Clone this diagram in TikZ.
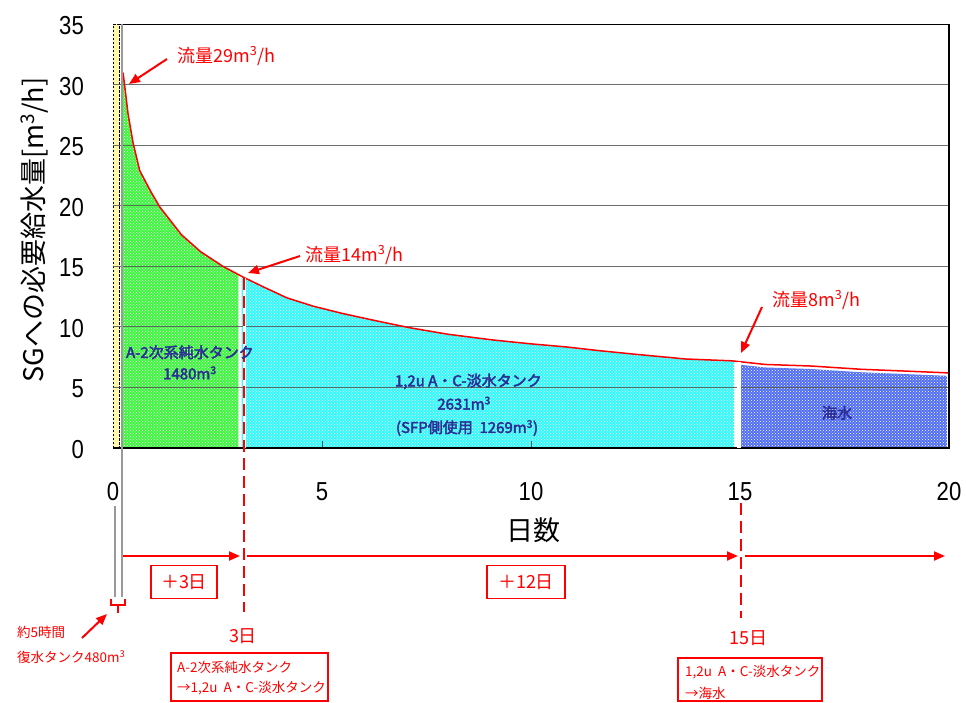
\documentclass[tikz,border=0pt]{standalone}
\usepackage{fontspec}
\setmainfont{Noto Sans CJK JP}
\newfontfamily\numfont[FakeStretch=0.85]{Liberation Sans}
\newfontfamily\jpbold[FakeBold=3]{Noto Sans CJK JP}
\usetikzlibrary{patterns,arrows.meta}
\definecolor{navy}{RGB}{45,45,150}
\definecolor{hgreen}{RGB}{60,245,60}
\definecolor{hcyan}{RGB}{50,248,248}
\definecolor{hblue}{RGB}{80,110,242}
\definecolor{hyellow}{RGB}{255,248,150}
\definecolor{gridc}{RGB}{85,85,85}
\tikzset{
  hatch/.style={fill=#1,postaction={pattern=crosshatch dots,pattern color=white}},
  redline/.style={draw=red,line width=2pt},
  redarrow/.style={draw=red,line width=2pt,-{Triangle[length=11pt,width=9pt]}},
  reddash/.style={draw=red,line width=2.5pt,dash pattern=on 12pt off 6pt},
  tick/.style={font=\numfont\fontsize{26}{28}\selectfont},
  redlab/.style={text=red,font=\fontsize{18}{20}\selectfont,inner sep=0pt},
  redbig/.style={text=red,font=\fontsize{18}{20}\selectfont,inner sep=0pt},
  redsmall/.style={text=red,font=\fontsize{13.5}{15}\selectfont,inner sep=0pt,anchor=west},
  tanklab/.style={text=navy,font=\jpbold\fontsize{15}{17}\selectfont,inner sep=0pt},
  daybox/.style={draw=red,line width=1.6pt,text=red,font=\fontsize{18}{20}\selectfont,minimum height=33pt,inner sep=0pt},
  graybar/.style={draw=gray!80,line width=1.6pt}
}
\def\crv{(0.24,31.0) -- (0.27,30.2) -- (0.36,27.6) -- (0.48,25.2) -- (0.64,22.9) -- (0.9,21.2) -- (1.12,19.9) -- (1.64,17.6) -- (2.1,16.2) -- (2.63,15.0) -- (3.12,14.1) -- (3.6,13.3) -- (4.16,12.4) -- (4.8,11.7) -- (5.5,11.1) -- (6.3,10.5) -- (7.1,9.93) -- (8.0,9.4) -- (9.09,8.92) -- (10.0,8.6) -- (10.86,8.34) -- (11.6,8.05) -- (12.44,7.76) -- (13.7,7.35) -- (14.8,7.2) -- (15.6,6.9) -- (16.7,6.77) -- (17.9,6.5) -- (18.9,6.36) -- (20.0,6.2)}
\begin{document}
\begin{tikzpicture}[x=1pt,y=-1pt]
\useasboundingbox[fill=white] (0,0) rectangle (966,702);
\begin{scope}[shift={(113,448)},x=41.8pt,y=12.11pt]
  % fills
  \begin{scope}
    \clip (0.215,0) rectangle (3.0,35);
    \path[hatch=hgreen] \crv -- (20,-1) -- (0.2,-1) -- (0.2,31) -- cycle;
  \end{scope}
  \begin{scope}
    \clip (3.08,0) rectangle (14.86,35);
    \path[hatch=hcyan] \crv -- (20,-1) -- (0.2,-1) -- cycle;
  \end{scope}
  \begin{scope}
    \clip (15.0,0) rectangle (19.95,35);
    \path[hatch=hblue,yshift=-3pt] \crv -- (20,-1) -- (0.2,-1) -- cycle;
  \end{scope}
  \path[hatch=hyellow] (0,0) rectangle (0.145,35);
  \draw[black,line width=0.6pt,dash pattern=on 2.5pt off 1.5pt] (0,0) rectangle (0.145,35);
  % grid lines
  \foreach \v in {5,10,...,30} \draw[gridc,line width=1.1pt,opacity=0.85] (0,\v) -- (20,\v);
  % ticks
  \foreach \d in {5,10,15} \draw[gridc,line width=1pt] (\d,0) -- (\d,0.55);
  % curve
  \draw[red,line width=1.5pt,line join=round] \crv;
  % frame
  \draw[black,line width=1.2pt] (0.16,35) -- (20,35) -- (20,0) -- (0,0);
\end{scope}
% axis labels
\foreach \v/\yy in {35/24,30/85,25/145,20/206,15/266,10/327,5/387,0/448}
  \node[tick,anchor=east,inner sep=0pt] (yl\v) at (84,\yy+2) {\v};
\foreach \d in {0,5,10,15,20}
  \node[tick,inner sep=0pt] (xl\d) at ({113+41.8*\d},492) {\d};
\node[font=\fontsize{27}{29}\selectfont,inner sep=0pt] (xlab) at (533,530) {日数};
\node[font=\fontsize{27}{29}\selectfont,inner sep=0pt,rotate=90] (ylab) at (35,230) {SGへの必要給水量[m\textsuperscript{3}/h]};
% gray 5h lines
\draw[graybar] (122,24) -- (122,597);
\draw[graybar] (115,506) -- (115,597);
% red dashed day markers
\draw[white,line width=3pt] (244,278) -- (244,448);
\draw[reddash] (244,278) -- (244,612);
\draw[white,line width=3.5pt] (739,362) -- (739,448);
\draw[reddash] (741,503) -- (741,618);
% tank labels (on top of the marker lines)
\begin{scope}[shift={(113,448)},x=41.8pt,y=12.11pt]
  \node[tanklab] (ta1) at (1.84,7.9) {A-2次系純水タンク};
  \node[tanklab] (ta2) at (1.84,6.2) {1480m\textsuperscript{3}};
  \node[tanklab] (tb1) at (8.5,5.5) {1,2u A・C-淡水タンク};
  \node[tanklab] (tb2) at (8.4,3.7) {2631m\textsuperscript{3}};
  \node[tanklab] (tb3) at (8.47,1.65) {(SFP側使用\ \ 1269m\textsuperscript{3})};
  \node[tanklab] (tc1) at (17.32,2.9) {海水};
\end{scope}
% time arrows
\coordinate (t0) at (123,556);
\coordinate (t3a) at (240,556);
\coordinate (t3b) at (247,556);
\coordinate (t15a) at (738,556);
\coordinate (t15b) at (745,556);
\coordinate (tend) at (945,556);
\draw[redarrow] (t0) -- (t3a);
\draw[redarrow] (t3b) -- (t15a);
\draw[redarrow] (t15b) -- (tend);
\node[daybox,minimum width=66pt] (p3) at (184,582) {＋3日};
\node[daybox,minimum width=78pt] (p12) at (526,582) {＋12日};
\node[redbig] (d3) at (243,636) {3日};
\node[redbig] (d15) at (748,638) {15日};
% bracket
\draw[red,line width=1.5pt] (111,599) -- (111,605) -- (125,605) -- (125,599);
\draw[red,line width=1.5pt] (118,605) -- (118,613);
\coordinate (brk) at (107,614);
\node[redsmall] (s1) at (17,632) {約5時間};
\node[redsmall] (s2) at (17,657) {復水タンク480m\textsuperscript{3}};
\coordinate (s1a) at (82,638);
\draw[redarrow] (s1a) -- (brk);
% flow labels
\node[redlab,anchor=west] (f29) at (177,56) {流量29m\textsuperscript{3}/h};
\node[redlab,anchor=west] (f14) at (305,255) {流量14m\textsuperscript{3}/h};
\node[redlab,anchor=west] (f8) at (772,300) {流量8m\textsuperscript{3}/h};
\coordinate (a29s) at (167,59); \coordinate (a29e) at (129,84);
\coordinate (a14s) at (300,256); \coordinate (a14e) at (248,273);
\coordinate (a8s) at (762,307); \coordinate (a8e) at (741,353);
\draw[redarrow] (a29s) -- (a29e);
\draw[redarrow] (a14s) -- (a14e);
\draw[redarrow] (a8s) -- (a8e);
% bottom boxes
\draw[red,line width=2pt] (171,653) rectangle (328,701);
\node[redsmall] (b1a) at (177,667) {A-2次系純水タンク};
\node[redsmall] (b1b) at (177,688) {→1,2u\ \ A・C-淡水タンク};
\draw[red,line width=2pt] (678,658) rectangle (822,701);
\node[redsmall] (b2a) at (685,672) {1,2u\ \ A・C-淡水タンク};
\node[redsmall] (b2b) at (685,693) {→海水};
\end{tikzpicture}
\end{document}
